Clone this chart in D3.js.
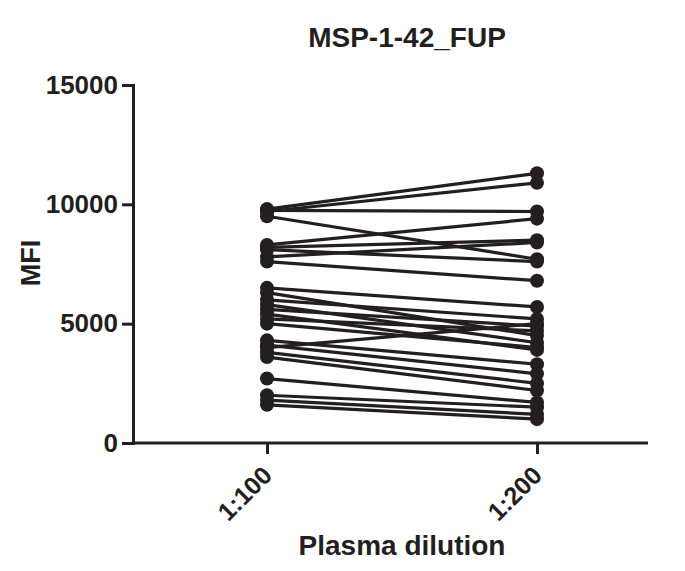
<!DOCTYPE html>
<html>
<head>
<meta charset="utf-8">
<script src="https://cdn.jsdelivr.net/npm/d3@7"></script>
<style>
  body { margin: 0; background: #fff; }
  text { font-family: "Liberation Sans", Arial, sans-serif; fill: #231f20; }
</style>
</head>
<body>
<script>
// categories and paired values (one line per sample)
var dilutions = ["1:100", "1:200"];
var mfi100 = [9800, 9700, 9750, 9500, 8300, 8200, 8100, 7800, 7600, 6500, 6300, 6000, 5800,
              5600, 5400, 5200, 5000, 4300, 4100, 4000, 3800, 3600, 2700, 2000, 1800, 1600];
var mfi200 = [11300, 10900, 9700, 7700, 9400, 8500, 7600, 8400, 6800, 5700, 4500, 5200, 4200,
              4900, 3900, 4700, 4000, 3300, 2900, 5000, 2500, 2200, 1700, 1500, 1200, 1000];
var yTicks = [0, 5000, 10000, 15000];

var w = 685, h = 571;
var ink = "#231f20";

var svg = d3.select("body").append("svg")
  .attr("width", w)
  .attr("height", h);

// scales
var xScale = d3.scalePoint()
  .domain(dilutions)
  .range([267, 537]);

var yScale = d3.scaleLinear()
  .domain([0, 15000])
  .range([443, 85]);

// lines joining the two dilutions
var pairs = mfi100.map(function(d, i) { return [d, mfi200[i]]; });

var line = d3.line()
  .x(function(d, i) { return xScale(dilutions[i]); })
  .y(function(d) { return yScale(d); });

svg.append("g").selectAll("path")
  .data(pairs)
  .enter()
  .append("path")
  .attr("d", line)
  .attr("fill", "none")
  .attr("stroke", ink)
  .attr("stroke-width", 3.2);

// points
dilutions.forEach(function(cat, c) {
  svg.append("g").selectAll("circle")
    .data(pairs)
    .enter()
    .append("circle")
    .attr("cx", xScale(cat))
    .attr("cy", function(d) { return yScale(d[c]); })
    .attr("r", 7)
    .attr("fill", ink);
});

// y axis
var yAxis = d3.axisLeft(yScale)
  .tickValues(yTicks)
  .tickSize(11)
  .tickPadding(4)
  .tickFormat(d3.format("d"));

var gy = svg.append("g")
  .attr("transform", "translate(133,0)")
  .call(yAxis);
gy.select(".domain").attr("stroke", ink).attr("stroke-width", 3);
gy.selectAll(".tick line").attr("stroke", ink).attr("stroke-width", 3);
gy.selectAll(".tick text")
  .attr("font-size", "26px")
  .attr("font-weight", "bold")
  .attr("fill", ink)
  .style("font-family", "'Liberation Sans', Arial, sans-serif");

// x axis
var xAxis = d3.axisBottom(xScale)
  .tickSize(11)
  .tickSizeOuter(0);

var gx = svg.append("g")
  .attr("transform", "translate(0,443)")
  .call(xAxis);
gx.select(".domain")
  .attr("d", "M133,0H648")
  .attr("stroke", ink)
  .attr("stroke-width", 3);
gx.selectAll(".tick line").attr("stroke", ink).attr("stroke-width", 3);
gx.selectAll(".tick text")
  .attr("font-size", "25px")
  .attr("font-weight", "bold")
  .attr("fill", ink)
  .style("font-family", "'Liberation Sans', Arial, sans-serif")
  .attr("text-anchor", "end")
  .attr("dy", null)
  .attr("y", 0)
  .attr("transform", "translate(6,34) rotate(-45)");

// titles
svg.append("text")
  .attr("x", 407)
  .attr("y", 47)
  .attr("text-anchor", "middle")
  .attr("font-size", "28px")
  .attr("font-weight", "bold")
  .text("MSP-1-42_FUP");

svg.append("text")
  .attr("transform", "translate(40,263) rotate(-90)")
  .attr("text-anchor", "middle")
  .attr("font-size", "27px")
  .attr("font-weight", "bold")
  .text("MFI");

svg.append("text")
  .attr("x", 402)
  .attr("y", 555)
  .attr("text-anchor", "middle")
  .attr("font-size", "28px")
  .attr("font-weight", "bold")
  .text("Plasma dilution");
</script>
</body>
</html>
